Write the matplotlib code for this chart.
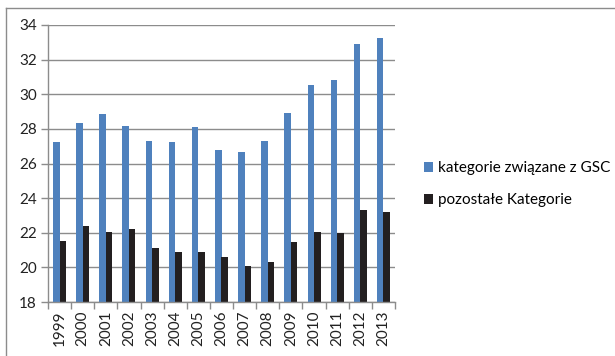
import matplotlib
matplotlib.use("Agg")
import matplotlib.pyplot as plt
import numpy as np

plt.rcParams['font.family'] = ['Lato', 'DejaVu Sans']

years = ['1999', '2000', '2001', '2002', '2003', '2004', '2005', '2006',
         '2007', '2008', '2009', '2010', '2011', '2012', '2013']
gsc = [27.25, 28.32, 28.84, 28.15, 27.28, 27.26, 28.09, 26.78,
       26.66, 27.30, 28.92, 30.52, 30.81, 32.90, 33.25]
other = [21.52, 22.37, 22.02, 22.20, 21.12, 20.87, 20.88, 20.58,
         20.10, 20.32, 21.46, 22.02, 21.98, 23.31, 23.21]
labels = ['kategorie związane z GSC', 'pozostałe Kategorie']
y_ticks = [18, 20, 22, 24, 26, 28, 30, 32, 34]

blue = '#4F81BD'
dark = '#231F20'
grid = '#8C8C8C'

fig = plt.figure(figsize=(6.15, 3.56), dpi=100)
ax = fig.add_axes([48 / 615, 1 - 302 / 356, 347 / 615, 277 / 356])
ax.set_frame_on(False)

x = np.arange(len(years))
w = 0.28
b1 = ax.bar(x - w / 2, gsc, width=w, color=blue, edgecolor='none',
            linewidth=0, label=labels[0], zorder=3)
b2 = ax.bar(x + w / 2, other, width=w, color=dark, edgecolor='none',
            linewidth=0, label=labels[1], zorder=3)

ax.set_xlim(-0.5, len(years) - 0.5)
ax.set_ylim(18, 34)
ax.set_yticks(y_ticks)
ax.set_yticklabels([str(t) for t in y_ticks], fontsize=11, color='#222222')
ax.yaxis.grid(True, color=grid, linewidth=1.0, zorder=0)
ax.xaxis.grid(False, which='both')
ax.set_axisbelow(True)

ax.set_xticks(x)
ax.set_xticklabels(years, rotation=90, fontsize=11, color='#222222')
ax.set_xticks(np.arange(-0.5, len(years)), minor=True)
ax.tick_params(axis='x', which='major', length=0, pad=6)
ax.tick_params(axis='x', which='minor', length=5, color=grid, width=1)
ax.tick_params(axis='y', length=5, color=grid, width=1, pad=3)

# left and bottom axis lines
ax.plot([0, 0], [0, 1], transform=ax.transAxes, color=grid, linewidth=1.0,
        clip_on=False, zorder=4)
ax.plot([0, 1], [0, 0], transform=ax.transAxes, color=grid, linewidth=1.0,
        clip_on=False, zorder=4)

fig.legend(handles=[b1, b2], labels=labels, loc='upper left',
           bbox_to_anchor=(418 / 615, 1 - 155 / 356), frameon=False,
           fontsize=11, handlelength=0.6, handleheight=0.6,
           handletextpad=0.3, labelspacing=1.2, borderaxespad=0)

# outer chart border: only the top and left edges fall inside the canvas
frame_top = 1 - 7.5 / 356
frame_left = 5.5 / 615
fig.add_artist(plt.Line2D([frame_left, 1], [frame_top, frame_top],
                          transform=fig.transFigure, color=grid, linewidth=1.0))
fig.add_artist(plt.Line2D([frame_left, frame_left], [0, frame_top],
                          transform=fig.transFigure, color=grid, linewidth=1.0))

fig.savefig('out.png', dpi=100)
